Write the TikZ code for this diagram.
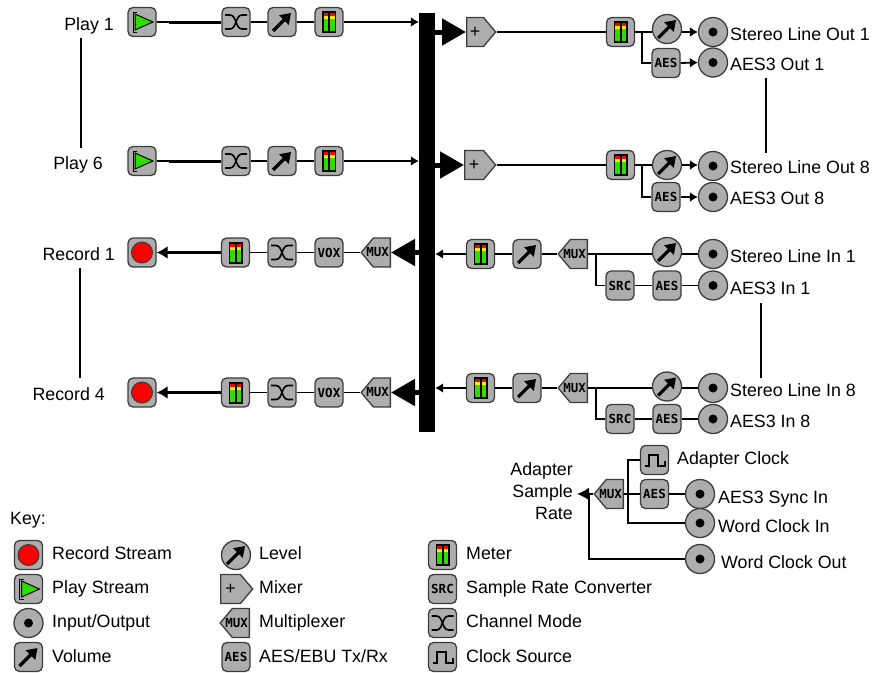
\documentclass[tikz,border=0pt]{standalone}
\usepackage{fontspec}
\setmainfont{Liberation Sans}
\newfontfamily\pixfont{DejaVu Sans Mono}
\usetikzlibrary{arrows.meta,shapes.symbols}
\definecolor{icogray}{HTML}{ADADAD}
\definecolor{icoedge}{HTML}{3C3C3C}
\definecolor{metergreen}{HTML}{2FDC00}
\newcommand{\muxtag}{\makebox[17pt][r]{MUX\hspace{1.5pt}}}
\tikzset{
  lab/.style={inner sep=0pt,font=\fontsize{17.8}{22}\selectfont,text height=13pt,text depth=1.5pt},
  icobox/.style={draw=icoedge,fill=icogray,line width=1.3pt,rounded corners=5pt,inner sep=0pt,minimum width=28pt,minimum height=29pt},
  pixbox/.style={icobox,font=\pixfont\bfseries\fontsize{12.5}{13}\selectfont},
  icoring/.style={circle,draw=icoedge,fill=icogray,line width=1.3pt,inner sep=0pt,minimum size=29pt},
  iobox/.style={icoring,path picture={\fill[black] (path picture bounding box.center) circle (4.5pt);}},
  levelbox/.style={icoring,path picture={\begin{scope}[shift={(path picture bounding box.center)},sharp corners]
      \draw[black,line width=3.2pt,-{Triangle[length=10pt,width=13pt]}] (-9,9) -- (9,-9);\end{scope}}},
  volbox/.style={icobox,path picture={\begin{scope}[shift={(path picture bounding box.center)},sharp corners]
      \draw[black,line width=3.2pt,-{Triangle[length=10pt,width=13pt]}] (-9,9) -- (9,-9);\end{scope}}},
  meterbox/.style={icobox,path picture={\begin{scope}[shift={(path picture bounding box.center)},sharp corners]
      \fill[black] (-7,-11) rectangle (7,11);
      \fill[metergreen] (-5.5,-9) rectangle (-1,9);
      \fill[metergreen] (1,-9) rectangle (5.5,9);
      \fill[yellow] (-5.5,-7) rectangle (-1,-3);
      \fill[yellow] (1,-7) rectangle (5.5,-3);
      \fill[red] (-5.5,-9) rectangle (-1,-6);
      \fill[red] (1,-9) rectangle (5.5,-6);\end{scope}}},
  playbox/.style={icobox,path picture={\begin{scope}[shift={(path picture bounding box.center)},sharp corners]
      \draw[black,line width=1pt] (-5,-10) -- (-9,-10) -- (-9,10) -- (-5,10);
      \draw[black,fill=metergreen,line width=1pt] (-7,-8) -- (11,0) -- (-7,8) -- cycle;\end{scope}}},
  recbox/.style={icobox,path picture={\draw[icoedge,fill=red,line width=1pt] (path picture bounding box.center) circle (10.5pt);}},
  chanbox/.style={icobox,path picture={\begin{scope}[shift={(path picture bounding box.center)},sharp corners]
      \draw[black,line width=1.6pt] (-11,-7) -- (-6,-7) .. controls (-2,-7) and (-1,-2) .. (0,0) .. controls (-1,2) and (-2,7) .. (-6,7) -- (-11,7);
      \draw[black,line width=1.6pt] (11,-7) -- (6,-7) .. controls (2,-7) and (1,-2) .. (0,0) .. controls (1,2) and (2,7) .. (6,7) -- (11,7);\end{scope}}},
  clkbox/.style={icobox,path picture={\begin{scope}[shift={(path picture bounding box.center)},sharp corners]
      \draw[black,line width=2pt] (-10,6) -- (-6,6) -- (-6,-5) -- (3,-5) -- (3,6) -- (10,6) -- (10,1);\end{scope}}},
  mixbox/.style={signal,signal to=east,signal pointer angle=100,anchor=west,draw=icoedge,fill=icogray,line width=1.3pt,inner sep=0pt,minimum width=29pt,minimum height=29pt,font=\fontsize{17.8}{18}\selectfont},
  muxbox/.style={signal,signal to=west,signal pointer angle=100,anchor=east,draw=icoedge,fill=icogray,line width=1.3pt,inner sep=0pt,minimum height=29pt,font=\pixfont\bfseries\fontsize{12.5}{13}\selectfont},
  wire/.style={line width=1.8pt,black},
  fatwire/.style={line width=3pt,black},
  tiparrow/.style={wire,-{Latex[length=8pt,width=10pt]}},
  fattip/.style={fatwire,-{Latex[length=11pt,width=13pt]}},
  bigarrow/.style={line width=5pt,black,-{Triangle[length=24pt,width=26pt]}}
}
\begin{document}
\begin{tikzpicture}[x=1pt,y=-1pt]
\useasboundingbox (0,0) rectangle (877,672);
% bus
\node[fill=black,inner sep=0pt,minimum width=16pt,minimum height=419pt] (bus) at (427,222.5) {};
% play rows
\node[lab,anchor=east] (lplay1) at (114,25) {Play 1};
\node[lab,anchor=east] (lplay6) at (103,164) {Play 6};
\coordinate (plinea) at (80.7,38);
\coordinate (plineb) at (80.7,148);
\draw[wire] (plinea) -- (plineb);
\node[playbox] (play1) at (142,22) {};
\node[chanbox] (chan1) at (236,22) {};
\node[volbox] (vol1) at (282,22) {};
\node[meterbox] (meter1) at (329,22) {};
\coordinate (pjoin1) at (169,22);
\draw[wire] (play1) -- (pjoin1);
\draw[fatwire] (pjoin1) -- (chan1);
\draw[wire] (chan1) -- (vol1);
\draw[wire] (vol1) -- (meter1);
\draw[tiparrow] (meter1.east) -- (meter1.east -| bus.west);
\node[playbox] (play6) at (142,161) {};
\node[chanbox] (chan6) at (236,161) {};
\node[volbox] (vol6) at (282,161) {};
\node[meterbox] (meter6) at (329,161) {};
\coordinate (pjoin6) at (169,161);
\draw[wire] (play6) -- (pjoin6);
\draw[fatwire] (pjoin6) -- (chan6);
\draw[wire] (chan6) -- (vol6);
\draw[wire] (vol6) -- (meter6);
\draw[tiparrow] (meter6.east) -- (meter6.east -| bus.west);
% outputs
\node[mixbox] (mix1) at (466,32) {+};
\node[meterbox] (ometer1) at (620.5,32) {};
\node[levelbox] (olev1) at (667,29) {};
\node[pixbox] (oaes1) at (666,63) {AES};
\node[iobox] (oio1) at (713,32) {};
\node[iobox] (oiob1) at (713,62.5) {};
\node[lab,anchor=west] (lout1) at (730,35) {Stereo Line Out 1};
\node[lab,anchor=west] (laes1) at (730,65) {AES3 Out 1};
\coordinate (obr1) at (641.7,32);
\draw[bigarrow] (mix1.west -| bus.east) -- (mix1.west);
\draw[wire] (mix1.east) -- (ometer1.west);
\draw[wire] (ometer1.east) -- (ometer1.east -| olev1.west);
\draw[wire] (obr1) |- (oaes1.west);
\draw[tiparrow] (oio1.west -| olev1.east) -- (oio1.west);
\draw[tiparrow] (oaes1.east) -- (oiob1.west);
\node[mixbox,minimum width=31pt] (mix8) at (464,165) {+};
\node[meterbox] (ometer8) at (620.5,165) {};
\node[levelbox] (olev8) at (667,165) {};
\node[pixbox] (oaes8) at (666,197) {AES};
\node[iobox] (oio8) at (713,166) {};
\node[iobox] (oiob8) at (713,197) {};
\node[lab,anchor=west] (lout8) at (730,168) {Stereo Line Out 8};
\node[lab,anchor=west] (laes8) at (730,199) {AES3 Out 8};
\coordinate (obr8) at (641.7,165);
\draw[bigarrow] (mix8.west -| bus.east) -- (mix8.west);
\draw[wire] (mix8.east) -- (ometer8.west);
\draw[wire] (ometer8.east) -- (olev8.west);
\draw[wire] (obr8) |- (oaes8.west);
\draw[tiparrow] (olev8.east) -- (olev8.east -| oio8.west);
\draw[tiparrow] (oaes8.east) -- (oiob8.west);
\coordinate (olinea) at (766,78);
\coordinate (olineb) at (766,153);
\draw[wire] (olinea) -- (olineb);
% record rows
\node[lab,anchor=east] (lrec1) at (115,255) {Record 1};
\node[lab,anchor=east] (lrec4) at (105,395) {Record 4};
\coordinate (rlinea) at (80,268);
\coordinate (rlineb) at (80,378);
\draw[wire] (rlinea) -- (rlineb);
\node[recbox] (rec1) at (142,252.5) {};
\node[meterbox] (lmeter1) at (235.5,252.5) {};
\node[chanbox] (lchan1) at (282,252.5) {};
\node[pixbox] (lvox1) at (329,252.5) {VOX};
\node[muxbox] (lmux1) at (391,252.5) {\muxtag};
\draw[fattip] (lmeter1) -- (rec1);
\draw[wire] (lmeter1) -- (lchan1);
\draw[wire] (lchan1) -- (lvox1);
\draw[wire] (lvox1) -- (lmux1.west);
\draw[bigarrow] (bus.west |- lmux1) -- (lmux1.east);
\node[recbox] (rec4) at (142,392.5) {};
\node[meterbox] (lmeter4) at (235.5,392.5) {};
\node[chanbox] (lchan4) at (282,392.5) {};
\node[pixbox] (lvox4) at (329,392.5) {VOX};
\node[muxbox] (lmux4) at (391,392.5) {\muxtag};
\draw[fattip] (lmeter4) -- (rec4);
\draw[wire] (lmeter4) -- (lchan4);
\draw[wire] (lchan4) -- (lvox4);
\draw[wire] (lvox4) -- (lmux4.west);
\draw[bigarrow] (bus.west |- lmux4) -- (lmux4.east);
% inputs
\node[meterbox] (rmeter1) at (480.5,254) {};
\node[volbox] (rvol1) at (527,254) {};
\node[muxbox] (rmux1) at (588,254) {\muxtag};
\node[levelbox] (rlev1) at (667,252) {};
\node[pixbox] (rsrc1) at (620,285.5) {SRC};
\node[pixbox] (raes1) at (667,285.5) {AES};
\node[iobox] (rio1) at (713,254) {};
\node[iobox] (riob1) at (713,285.5) {};
\node[lab,anchor=west] (lin1) at (730,257) {Stereo Line In 1};
\node[lab,anchor=west] (lina1) at (730,289) {AES3 In 1};
\coordinate (rbr1) at (595.7,254);
\draw[tiparrow] (rmeter1.west) -- (rmeter1.west -| bus.east);
\draw[wire] (rmeter1) -- (rvol1);
\draw[wire] (rvol1) -- (rmux1.west);
\draw[wire] (rmux1.east) -- (rmux1.east -| rlev1.west);
\draw[wire] (rio1.west) -- (rio1.west -| rlev1.east);
\draw[wire] (rbr1) |- (rsrc1.west);
\draw[wire] (rsrc1) -- (raes1);
\draw[wire] (raes1) -- (riob1);
\node[meterbox] (rmeter8) at (480.5,388) {};
\node[volbox] (rvol8) at (527,388) {};
\node[muxbox] (rmux8) at (588,388) {\muxtag};
\node[levelbox] (rlev8) at (667,386.5) {};
\node[pixbox] (rsrc8) at (620,419) {SRC};
\node[pixbox] (raes8) at (667,419) {AES};
\node[iobox] (rio8) at (713,388) {};
\node[iobox] (riob8) at (713,419) {};
\node[lab,anchor=west] (lin8) at (730,391) {Stereo Line In 8};
\node[lab,anchor=west] (lina8) at (730,422) {AES3 In 8};
\coordinate (rbr8) at (595.7,388);
\draw[tiparrow] (rmeter8.west) -- (rmeter8.west -| bus.east);
\draw[wire] (rmeter8) -- (rvol8);
\draw[wire] (rvol8) -- (rmux8.west);
\draw[wire] (rmux8.east) -- (rmux8.east -| rlev8.west);
\draw[wire] (rio8.west) -- (rio8.west -| rlev8.east);
\draw[wire] (rbr8) |- (rsrc8.west);
\draw[wire] (rsrc8) -- (raes8);
\draw[wire] (raes8) -- (riob8);
\coordinate (ilinea) at (760.7,303);
\coordinate (ilineb) at (760.7,378);
\draw[wire] (ilinea) -- (ilineb);
% clock
\node[lab,anchor=east,align=right,text height=,text depth=] (lrate) at (573,491) {Adapter\\Sample\\Rate};
\node[muxbox] (cmux) at (624,494) {\muxtag};
\node[clkbox] (cclk) at (654.5,460) {};
\node[pixbox] (caes) at (654.5,494) {AES};
\node[iobox] (cio1) at (700,494) {};
\node[iobox] (cio2) at (700,523) {};
\node[iobox] (cio3) at (700,559) {};
\node[lab,anchor=west] (lclk) at (677,459) {Adapter Clock};
\node[lab,anchor=west] (lsync) at (718,498) {AES3 Sync In};
\node[lab,anchor=west] (lwin) at (718,527) {Word Clock In};
\node[lab,anchor=west] (lwout) at (721,563) {Word Clock Out};
\coordinate (cbr) at (628,523);
\coordinate (cbrb) at (589.3,494);
\coordinate (ctip) at (577,494);
\draw[wire] (cclk.west) -| (cbr) -- (cio2.west);
\draw[wire] (cmux.east) -- (caes.west);
\draw[wire] (caes.east) -- (cio1.west);
\draw[wire] (cio3.west) -| (cbrb);
\draw[wire,-{Latex[length=12pt,width=13pt]}] (cmux.west) -- (ctip);
% key
\node[lab,anchor=west] (lkey) at (10,519) {Key:};
\node[recbox] (krec) at (28.5,555) {};
\node[playbox] (kplay) at (28.5,589) {};
\node[iobox] (kio) at (28.5,623) {};
\node[volbox] (kvol) at (28.5,657) {};
\node[lab,anchor=west] (lkrec) at (52,554) {Record Stream};
\node[lab,anchor=west] (lkplay) at (52,588) {Play Stream};
\node[lab,anchor=west] (lkio) at (52,622) {Input/Output};
\node[lab,anchor=west] (lkvol) at (52,657) {Volume};
\node[levelbox] (klev) at (236,555) {};
\node[mixbox,minimum width=32pt] (kmix) at (220,589) {+};
\node[muxbox] (kmux) at (250,623) {\muxtag};
\node[pixbox] (kaes) at (236,657) {AES};
\node[lab,anchor=west] (lklev) at (259,554) {Level};
\node[lab,anchor=west] (lkmix) at (259,588) {Mixer};
\node[lab,anchor=west] (lkmux) at (259,622) {Multiplexer};
\node[lab,anchor=west] (lkaes) at (259,657) {AES/EBU Tx/Rx};
\node[meterbox] (kmeter) at (442.5,555) {};
\node[pixbox] (ksrc) at (442.5,589) {SRC};
\node[chanbox] (kchan) at (442.5,623) {};
\node[clkbox] (kclk) at (442.5,657) {};
\node[lab,anchor=west] (lkmeter) at (466,554) {Meter};
\node[lab,anchor=west] (lksrc) at (466,588) {Sample Rate Converter};
\node[lab,anchor=west] (lkchan) at (466,622) {Channel Mode};
\node[lab,anchor=west] (lkclk) at (466,657) {Clock Source};
\end{tikzpicture}
\end{document}
